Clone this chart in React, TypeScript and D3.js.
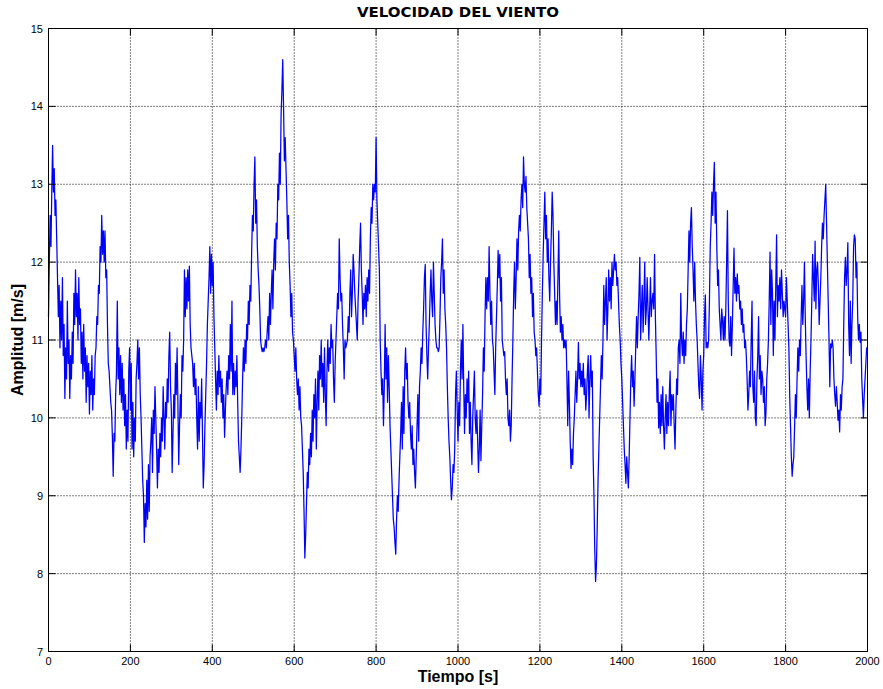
import React from "react";
import * as d3 from "d3";

// Wind speed samples, one every 2 s, grouped in 200-s windows
const STEP = 2;
const seg0 = [11.3,12.0,12.6,12.2,12.9,13.5,12.9,13.2,12.6,12.8,12.3,11.8,11.3,11.7,10.9,11.5,11.0,11.8,10.8,11.2,10.25,10.9,10.5,11.5,10.7,11.0,10.25,10.8,10.5,11.1,10.7,11.6,11.2,11.9,11.3,11.6,11.0,11.8,11.2,11.4,10.7,11.1,10.5,11.2,10.6,10.9,10.2,10.8,10.4,10.7,10.05,10.6,10.3,10.8,10.1,10.5,10.3,10.8,10.9,11.3,11.2,11.7,11.6,12.2,12.0,12.6,12.1,12.4,12.0,12.4,11.8,11.9,11.2,10.7,10.6,10.4,10.2,10.1,9.75,9.25,9.8,9.7,10.3,10.6,11.5,10.5,10.9,10.3,10.8,10.2,10.7,10.1,10.5,9.9,10.3,9.6,10.1,9.7,10.6,10.9];
const seg1 = [10.1,10.7,9.6,10.2,9.5,10.0,9.7,10.5,10.7,11.0,10.5,10.9,10.3,10.0,9.6,9.2,9.0,8.4,8.9,8.6,9.2,8.7,9.4,8.8,9.5,9.7,10.0,9.3,10.1,9.8,10.4,10.0,9.6,9.1,9.6,9.3,9.8,9.5,10.0,9.7,10.4,10.0,9.6,10.2,10.0,10.5,10.2,10.8,11.1,10.4,10.1,9.3,9.8,10.3,10.0,10.7,10.3,10.9,10.2,9.4,9.9,10.3,10.0,10.8,10.6,11.0,11.9,11.3,11.8,11.4,11.9,11.5,11.95,11.2,10.9,10.8,10.7,10.4,10.7,10.3,10.5,10.0,9.6,10.4,9.7,10.2,10.0,10.5,9.8,9.1,9.4,9.9,10.3,10.7,11.2,11.5,11.8,12.2,11.6,12.1];
const seg2 = [11.7,12.0,11.3,10.9,10.5,10.1,10.6,10.3,10.8,10.4,10.6,10.2,10.5,10.0,10.3,9.75,10.1,10.4,10.6,10.3,10.8,10.5,11.2,10.6,11.5,10.3,10.7,10.3,10.6,10.4,10.8,10.2,9.7,9.5,9.3,9.6,10.0,10.5,10.9,10.6,11.0,10.7,11.2,11.0,11.5,11.2,11.7,11.5,12.1,12.6,12.4,13.0,13.35,12.5,12.8,12.2,11.9,11.7,11.4,11.0,10.9,10.85,10.9,10.85,10.9,11.0,10.9,11.1,11.3,11.0,11.6,11.2,11.6,11.9,11.4,12.0,12.3,11.9,12.5,12.3,13.0,12.8,13.4,13.0,13.9,14.2,14.6,14.0,13.3,13.6,13.2,12.8,12.3,12.6,12.0,11.7,11.3,11.6,11.1,11.0];
const seg3 = [10.8,10.6,10.9,10.5,10.3,10.5,10.1,10.4,10.0,9.9,9.6,9.3,8.8,8.2,8.5,8.9,9.3,9.1,9.6,9.4,9.8,9.5,10.1,9.7,10.3,10.0,10.5,9.6,10.2,10.6,10.1,10.8,10.5,11.0,10.4,10.7,10.2,10.9,10.3,9.9,10.6,11.0,10.6,10.9,10.7,11.2,10.9,11.0,10.5,10.2,10.7,11.0,11.3,11.6,11.4,12.3,11.8,11.5,11.6,11.2,10.9,10.5,11.0,10.9,10.95,11.0,11.3,11.1,11.6,11.9,11.3,11.6,12.1,11.9,11.6,11.4,11.2,11.0,11.5,11.8,12.2,12.5,11.9,11.6,11.2,11.6,11.4,11.7,11.3,11.8,11.5,11.9,11.6,12.3,12.7,12.5,13.0,12.8,13.0,12.9];
const seg4 = [13.6,12.8,12.5,12.2,11.9,11.0,10.6,10.3,10.5,9.9,10.4,11.2,10.5,10.9,10.2,10.8,10.4,9.9,9.6,9.3,9.0,8.7,8.6,8.4,8.25,8.7,9.0,8.8,9.2,9.5,9.8,10.2,9.6,10.4,9.8,10.6,10.9,10.5,10.7,10.2,10.0,10.2,9.8,9.6,9.9,9.4,9.6,9.3,9.1,9.5,9.9,10.3,9.7,10.4,10.6,10.9,10.7,11.1,11.4,11.8,11.97,11.2,10.8,10.5,10.9,11.2,11.6,11.9,11.5,11.3,12.0,11.6,11.2,11.0,10.9,10.9,10.85,10.9,11.3,11.8,12.0,12.3,11.6,11.9,11.4,11.2,10.9,10.4,10.0,9.7,9.5,9.2,8.95,9.1,9.4,9.3,9.6,10.3,10.6,10.1];
const seg5 = [9.7,10.2,9.9,10.6,11.0,10.5,11.2,10.4,9.8,10.3,10.0,10.5,10.2,10.6,9.8,10.2,9.7,9.4,10.0,10.3,10.6,10.0,9.8,10.1,9.7,9.3,9.6,10.1,9.45,9.9,10.3,10.9,10.6,11.3,11.8,11.4,11.8,11.5,12.2,11.6,11.2,11.5,11.0,10.9,10.6,10.3,10.9,11.3,11.7,12.15,11.8,12.1,11.5,11.8,11.0,10.9,10.8,10.85,10.5,10.3,10.5,10.0,9.9,10.1,9.7,9.9,10.5,11.0,11.6,12.0,11.4,11.8,12.3,11.9,12.4,12.6,12.4,12.8,13.0,12.7,13.35,13.0,12.9,13.1,12.7,12.5,12.3,11.8,12.1,11.6,11.8,11.3,11.6,11.1,11.0,10.8,10.9,10.6,10.3,10.15];
const seg6 = [10.5,10.3,11.0,11.6,12.1,12.5,12.9,12.3,12.6,12.0,12.3,11.8,11.5,12.0,12.4,12.9,12.6,12.0,11.6,11.2,11.5,11.2,11.8,12.4,11.6,11.1,11.3,11.0,11.2,10.9,11.0,10.9,11.0,10.5,9.9,10.6,10.2,9.7,9.35,9.6,9.4,9.8,10.0,10.3,10.6,10.2,10.5,10.97,10.5,10.7,10.4,10.6,10.4,10.7,10.3,10.5,10.1,10.3,10.6,10.8,10.0,10.5,10.8,10.4,10.6,9.5,9.0,8.3,7.9,8.1,8.6,9.2,9.6,10.0,10.4,10.8,10.5,11.0,11.7,11.2,11.5,11.8,11.0,11.4,11.9,11.5,11.8,11.4,12.0,11.7,11.9,12.1,11.9,12.0,11.7,11.8,11.5,11.2,11.0,10.7];
const seg7 = [10.5,10.2,9.9,9.6,9.4,9.16,9.5,9.3,9.1,9.5,10.0,10.5,10.8,10.4,10.6,10.15,10.5,10.9,11.3,10.9,11.3,11.6,12.06,11.0,11.4,11.7,11.1,11.5,12.0,11.2,11.4,11.8,11.4,11.0,11.4,11.8,11.3,11.5,11.6,11.4,12.1,11.3,10.8,10.2,10.5,9.87,10.2,9.8,10.3,9.9,10.4,9.9,9.6,10.0,10.3,9.8,10.2,9.9,10.3,10.6,9.9,10.3,10.1,10.3,9.9,9.6,10.1,10.5,10.3,10.9,11.0,10.7,11.6,11.0,10.8,11.1,10.7,11.0,10.8,11.2,11.4,11.9,12.4,12.0,12.5,12.7,12.2,11.9,11.5,12.0,11.5,11.2,11.0,10.7,10.4,10.25,10.8,10.5,10.1,10.6];
const seg8 = [10.8,11.3,11.58,10.9,10.97,10.9,11.0,11.5,12.2,12.5,12.9,12.6,13.0,13.28,12.5,12.9,12.2,11.7,11.9,11.4,11.2,11.0,11.4,11.25,11.0,11.3,11.0,11.4,12.0,12.66,11.5,11.0,10.92,11.3,10.8,11.2,11.7,12.18,11.6,11.8,11.5,11.85,11.6,11.7,11.4,11.5,11.2,11.4,11.1,11.2,10.9,11.0,10.8,10.5,10.1,10.3,10.6,10.4,11.0,11.5,10.4,10.2,10.6,10.0,9.9,10.5,10.8,11.3,10.5,10.8,10.3,10.6,10.5,10.2,10.4,9.9,10.06,10.5,10.7,11.0,11.5,12.13,11.2,11.9,11.6,10.8,11.5,11.0,11.7,12.35,11.3,11.7,11.5,11.8,11.4,11.9,11.6,11.3,11.5,11.4];
const seg9 = [11.3,11.8,11.5,11.2,10.9,10.3,9.9,9.5,9.25,9.4,9.5,9.9,10.3,10.0,10.5,10.9,10.6,11.0,10.8,11.3,11.7,11.2,11.5,12.0,11.3,10.8,10.4,10.1,10.5,10.0,10.6,11.0,11.5,12.1,11.8,11.5,12.27,11.4,11.9,12.0,11.7,11.2,11.5,11.8,12.2,12.5,12.3,12.6,12.8,13.0,12.5,12.0,11.5,11.0,10.4,10.95,10.9,11.0,10.9,10.5,10.3,10.15,10.4,10.2,9.97,10.1,9.82,10.3,10.1,10.4,10.5,11.2,11.8,12.06,11.7,11.9,12.25,11.2,10.8,11.5,10.7,11.2,11.5,12.2,12.35,12.3,11.8,12.0,11.3,11.0,11.2,10.97,11.1,10.5,10.25,10.0,10.3,10.5,10.7,10.9,10.9];
const segments = [seg0, seg1, seg2, seg3, seg4, seg5, seg6, seg7, seg8, seg9];

const xTicks = [0, 200, 400, 600, 800, 1000, 1200, 1400, 1600, 1800, 2000];
const yTicks = [7, 8, 9, 10, 11, 12, 13, 14, 15];
const TITLE = "VELOCIDAD DEL VIENTO";
const XLABEL = "Tiempo [s]";
const YLABEL = "Amplitud [m/s]";

export default function App() {
  const W = 883, H = 689;
  const L = 48.5, R = 867.5, T = 28.5, B = 651.5;
  const x = d3.scaleLinear().domain([0, 2000]).range([L, R]);
  const y = d3.scaleLinear().domain([7, 15]).range([B, T]);

  const pts: [number, number][] = [];
  segments.forEach((seg, k) => {
    seg.forEach((v, i) => pts.push([k * 200 + i * STEP, v]));
  });
  const line = d3.line<[number, number]>().x(d => x(d[0])).y(d => y(d[1]));

  const font = "'Liberation Sans', Arial, sans-serif";
  return (
    <svg width={W} height={H} style={{ position: "absolute", left: 0, top: 0, background: "#fff" }}>
      <rect x={0} y={0} width={W} height={H} fill="#fff" />
      {/* grid */}
      {xTicks.slice(1, -1).map(t => (
        <line key={"gx" + t} x1={x(t)} x2={x(t)} y1={T} y2={B} stroke="#000" strokeWidth={1} strokeDasharray="1,2" />
      ))}
      {yTicks.slice(1, -1).map(t => (
        <line key={"gy" + t} x1={L} x2={R} y1={y(t)} y2={y(t)} stroke="#000" strokeWidth={1} strokeDasharray="1,2" />
      ))}
      {/* data */}
      <path d={line(pts) || ""} fill="none" stroke="#0000ff" strokeWidth={1.25} strokeLinejoin="round" />
      {/* ticks */}
      {xTicks.map(t => (
        <g key={"tx" + t}>
          <line x1={x(t)} x2={x(t)} y1={B} y2={B - 7} stroke="#000" />
          <line x1={x(t)} x2={x(t)} y1={T} y2={T + 7} stroke="#000" />
          <text x={x(t)} y={665} fontSize={11} fontFamily={font} textAnchor="middle" fill="#000">{t}</text>
        </g>
      ))}
      {yTicks.map(t => (
        <g key={"ty" + t}>
          <line x1={L} x2={L + 7} y1={y(t)} y2={y(t)} stroke="#000" />
          <line x1={R} x2={R - 7} y1={y(t)} y2={y(t)} stroke="#000" />
          <text x={43} y={y(t) + 4} fontSize={11} fontFamily={font} textAnchor="end" fill="#000">{t}</text>
        </g>
      ))}
      {/* box */}
      <rect x={L} y={T} width={R - L} height={B - T} fill="none" stroke="#000" strokeWidth={1} />
      {/* labels */}
      <text x={(L + R) / 2} y={17} fontSize={14} fontWeight="bold" fontFamily="'DejaVu Sans', sans-serif" textAnchor="middle" textLength={202} lengthAdjust="spacingAndGlyphs">{TITLE}</text>
      <text x={(L + R) / 2} y={682} fontSize={16} fontWeight="bold" fontFamily={font} textAnchor="middle">{XLABEL}</text>
      <text transform={`translate(23, ${(T + B) / 2}) rotate(-90)`} fontSize={16} fontWeight="bold" fontFamily={font} textAnchor="middle">{YLABEL}</text>
    </svg>
  );
}
